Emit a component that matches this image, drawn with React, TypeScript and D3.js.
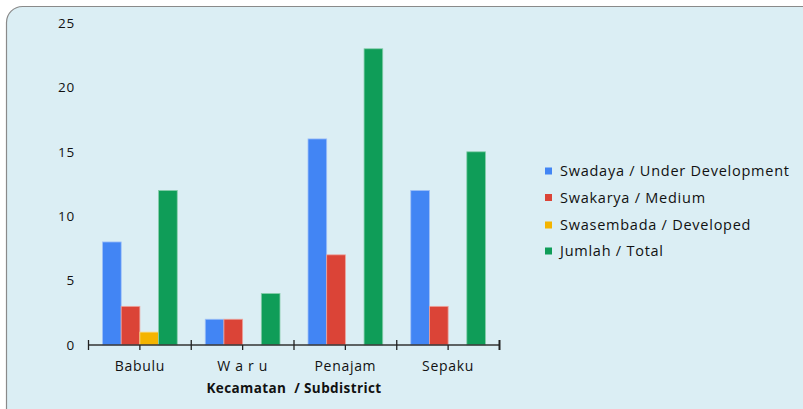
import React from "react";
import * as d3 from "d3";

const categories = ["Babulu", "W a r u", "Penajam", "Sepaku"];
const seriesNames = [
  "Swadaya / Under Development",
  "Swakarya / Medium",
  "Swasembada / Developed",
  "Jumlah / Total",
];
const swadaya = [8, 2, 16, 12];
const swakarya = [3, 2, 7, 3];
const swasembada = [1, 0, 0, 0];
const jumlah = [12, 4, 23, 15];
const yTicks = [0, 5, 10, 15, 20, 25];
const colors = ["#4285F4", "#DB4437", "#F4B400", "#0F9D58"];
const strokes = ["#9fc0f8", "#eda39c", "#f9d97f", "#87ceab"];
const axisTitle = "Kecamatan  / Subdistrict";

export default function App() {
  const W = 803;
  const H = 409;
  const series = [swadaya, swakarya, swasembada, jumlah];
  const x = d3.scaleBand<string>().domain(categories).range([88.5, 499.5]).paddingInner(0).paddingOuter(0);
  const inner = d3
    .scaleBand<number>()
    .domain([0, 1, 2, 3])
    .range([0, x.bandwidth()])
    .paddingInner(0)
    .paddingOuter(0.75);
  const y = d3.scaleLinear().domain([0, 25]).range([345, 23]);
  const font = "'Open Sans', 'Noto Sans', sans-serif";
  const boundaries = categories.map((c) => x(c)!).concat([x.range()[1]]);

  return (
    <svg width={W} height={H} style={{ position: "absolute", left: 0, top: 0 }}>
      <rect x={6.5} y={6.5} width={820} height={420} rx={16} ry={16} fill="#dbeef4" stroke="#8a8a8a" strokeWidth={1.2} />
      {yTicks.map((t) => (
        <text key={t} x={75} y={y(t)} dy="0.35em" textAnchor="end" fontFamily={font} fontSize={13.5} letterSpacing={0.8} fill="#111">
          {t}
        </text>
      ))}
      {categories.map((c, ci) =>
        series.map((s, si) =>
          s[ci] > 0 ? (
            <rect
              key={c + si}
              x={x(c)! + inner(si)!}
              y={y(s[ci])}
              width={inner.bandwidth()}
              height={y(0) - y(s[ci])}
              fill={colors[si]}
              stroke={strokes[si]}
              strokeWidth={0.8}
            />
          ) : null
        )
      )}
      <line x1={x.range()[0]} x2={x.range()[1]} y1={345} y2={345} stroke="#333" strokeWidth={1.6} />
      {boundaries.map((b, i) => (
        <line key={"b" + i} x1={b} x2={b} y1={340} y2={350} stroke="#222" strokeWidth={i === boundaries.length - 1 ? 2 : 1.3} />
      ))}
      {categories.map((c) => (
        <line key={"m" + c} x1={x(c)! + x.bandwidth() / 2} x2={x(c)! + x.bandwidth() / 2} y1={345} y2={350} stroke="#222" strokeWidth={1.3} />
      ))}
      {categories.map((c) => (
        <text key={"l" + c} x={x(c)! + x.bandwidth() / 2} y={366} dy="0.35em" textAnchor="middle" fontFamily={font} fontSize={14} letterSpacing={0.7} fill="#111" style={{ whiteSpace: "pre" }}>
          {c}
        </text>
      ))}
      <text x={294} y={388} dy="0.35em" textAnchor="middle" fontFamily={font} fontSize={13.5} fontWeight="bold" letterSpacing={0.4} fill="#111" style={{ whiteSpace: "pre" }}>
        {axisTitle}
      </text>
      {seriesNames.map((n, i) => {
        const ly = [171, 197.5, 225, 251][i];
        return (
          <g key={n}>
            <rect x={545} y={ly - 3.5} width={7} height={7} fill={colors[i]} />
            <text x={560} y={ly} dy="0.35em" fontFamily={font} fontSize={14.5} letterSpacing={0.75} fill="#111">
              {n}
            </text>
          </g>
        );
      })}
    </svg>
  );
}
